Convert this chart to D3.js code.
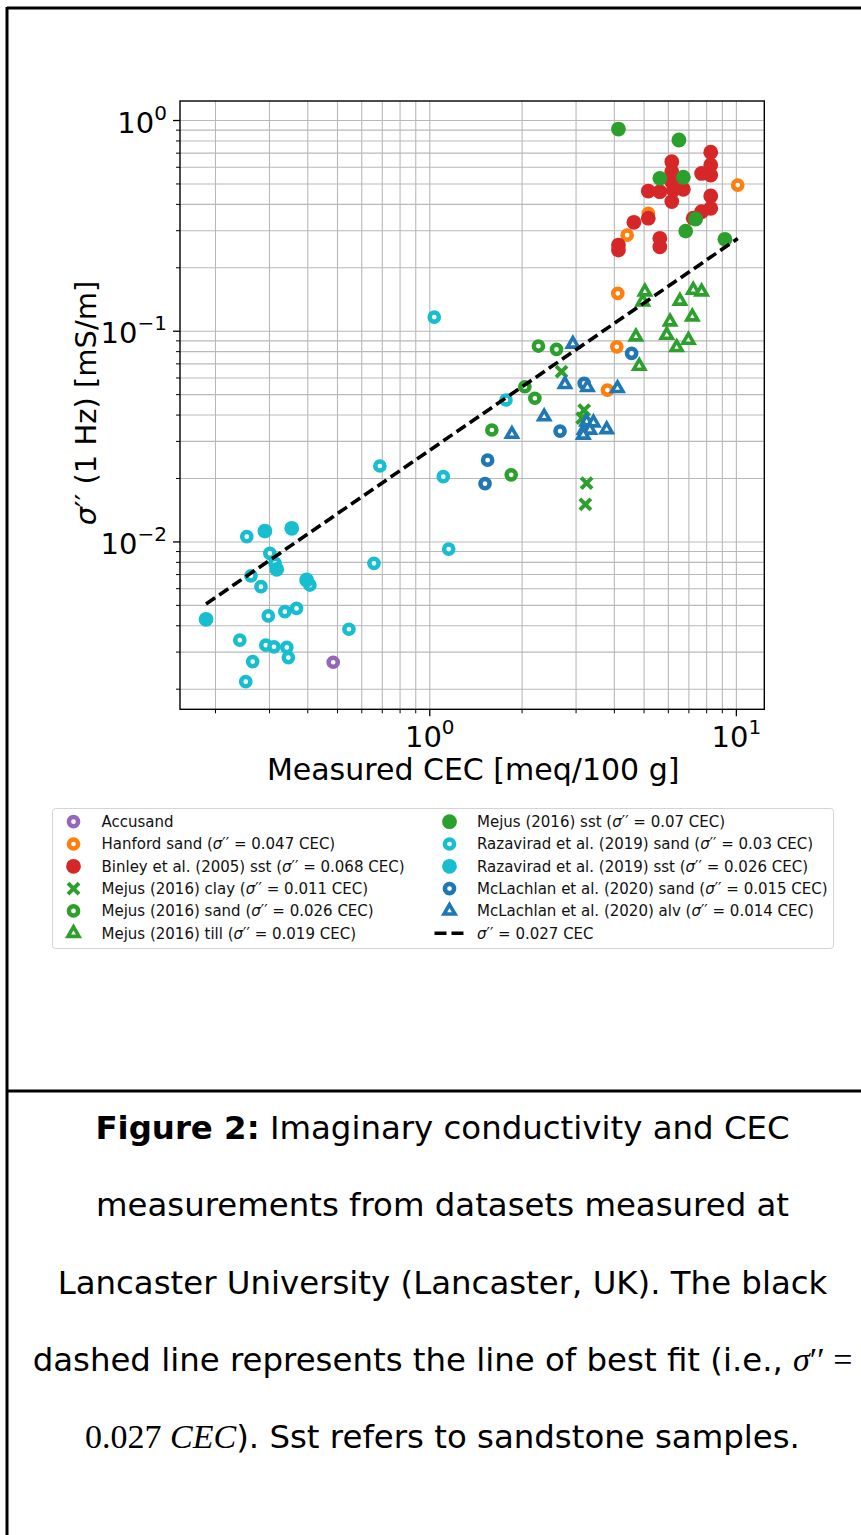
<!DOCTYPE html>
<html>
<head>
<meta charset="utf-8">
<script src="https://cdn.jsdelivr.net/npm/d3@7"></script>
<style>
  body { margin: 0; background: #fff; }
  svg { display: block; }
</style>
</head>
<body>
<svg id="fig" width="861" height="1535"></svg>
<script>
// each point: [CEC (meq/100 g), sigma'' at 1 Hz (mS/m)]
const accusand = [[0.486, 0.00267]]
const hanfordSand = [[10.14, 0.491], [5.18, 0.361], [4.42, 0.284], [4.12, 0.1505], [4.09, 0.0839], [3.81, 0.0523]]
const binleySst = [
  [8.28, 0.703], [8.28, 0.612], [7.73, 0.558], [8.28, 0.548], [6.18, 0.634], [6.18, 0.568],
  [6.18, 0.51], [5.18, 0.46], [5.65, 0.457], [6.25, 0.465], [6.74, 0.469], [6.18, 0.41],
  [8.28, 0.436], [8.28, 0.381], [7.73, 0.367], [7.26, 0.342], [5.18, 0.342], [4.65, 0.327],
  [4.14, 0.255], [4.14, 0.2415], [5.65, 0.2745], [5.65, 0.2504]
]
const mejusClay = [[2.7, 0.0639], [3.2, 0.042], [3.15, 0.0385], [3.26, 0.0189], [3.23, 0.015]]
const mejusSand = [[2.27, 0.0846], [2.6, 0.0816], [2.05, 0.0542], [2.21, 0.0478], [1.6, 0.0338], [1.85, 0.0207]]
const mejusTill = [
  [5.05, 0.1532], [4.97, 0.1373], [6.57, 0.1384], [7.26, 0.156], [7.73, 0.1532], [6.1, 0.1103],
  [7.21, 0.1165], [4.72, 0.0937], [5.95, 0.0954], [7.0, 0.0903], [6.41, 0.0834], [4.84, 0.068]
]
const mejusSst = [[4.14, 0.906], [6.52, 0.804], [5.65, 0.529], [6.74, 0.535], [7.39, 0.339], [6.86, 0.297], [9.21, 0.2715]]
const razaviradSand = [
  [0.254, 0.01053], [0.302, 0.00878], [0.314, 0.00787], [0.262, 0.00687], [0.2825, 0.0061],
  [0.408, 0.00621], [0.2985, 0.00443], [0.338, 0.00464], [0.369, 0.00481], [0.241, 0.0034],
  [0.293, 0.00322], [0.3115, 0.00316], [0.343, 0.00314], [0.347, 0.00281], [0.2655, 0.00269],
  [0.252, 0.00216], [0.547, 0.00383], [0.66, 0.00787], [0.69, 0.0228], [1.111, 0.0203],
  [1.157, 0.0092], [1.038, 0.1161], [1.779, 0.0469]
]
const razaviradSst = [[0.291, 0.0112], [0.356, 0.01154], [0.318, 0.00737], [0.398, 0.00656], [0.187, 0.00427]]
const mclachlanSand = [[4.57, 0.0781], [3.2, 0.0563], [2.67, 0.0334], [1.55, 0.0243], [1.52, 0.0188]]
const mclachlanAlv = [
  [2.94, 0.0865], [2.77, 0.0557], [3.28, 0.0539], [4.11, 0.0533], [2.37, 0.0391], [1.86, 0.0323],
  [3.79, 0.034], [3.26, 0.037], [3.43, 0.0366], [3.2, 0.0338], [3.34, 0.0338], [3.18, 0.032]
]

const fitSlope = 0.027
const xMajor = [1, 10]
const yMajor = [0.01, 0.1, 1]

const series = [
  { label: 'Accusand', data: accusand, color: '#9467bd', marker: 'open' },
  { label: "Hanford sand (σ'' = 0.047 CEC)", data: hanfordSand, color: '#ff7f0e', marker: 'open' },
  { label: "Binley et al. (2005) sst (σ'' = 0.068 CEC)", data: binleySst, color: '#d62728', marker: 'filled' },
  { label: "Mejus (2016) clay (σ'' = 0.011 CEC)", data: mejusClay, color: '#2ca02c', marker: 'x' },
  { label: "Mejus (2016) sand (σ'' = 0.026 CEC)", data: mejusSand, color: '#2ca02c', marker: 'open' },
  { label: "Mejus (2016) till (σ'' = 0.019 CEC)", data: mejusTill, color: '#2ca02c', marker: 'tri' },
  { label: "Mejus (2016) sst (σ'' = 0.07 CEC)", data: mejusSst, color: '#2ca02c', marker: 'filled' },
  { label: "Razavirad et al. (2019) sand (σ'' = 0.03 CEC)", data: razaviradSand, color: '#17becf', marker: 'open' },
  { label: "Razavirad et al. (2019) sst (σ'' = 0.026 CEC)", data: razaviradSst, color: '#17becf', marker: 'filled' },
  { label: "McLachlan et al. (2020) sand (σ'' = 0.015 CEC)", data: mclachlanSand, color: '#1f77b4', marker: 'open' },
  { label: "McLachlan et al. (2020) alv (σ'' = 0.014 CEC)", data: mclachlanAlv, color: '#1f77b4', marker: 'tri' },
]
const fitLabel = "σ'' = 0.027 CEC"

const svg = d3.select('#fig')

// page frame
svg.append('line').attr('x1', 7).attr('y1', 8).attr('x2', 861).attr('y2', 8).attr('stroke', '#000').attr('stroke-width', 3)
svg.append('line').attr('x1', 7).attr('y1', 7).attr('x2', 7).attr('y2', 1535).attr('stroke', '#000').attr('stroke-width', 3)
svg.append('line').attr('x1', 7).attr('y1', 1091).attr('x2', 861).attr('y2', 1091).attr('stroke', '#000').attr('stroke-width', 3)

const pLeft = 180, pRight = 764.3, pTop = 101, pBottom = 709.3
const x = d3.scaleLog().domain([0.1538, 12.38]).range([pLeft, pRight])
const y = d3.scaleLog().domain([0.001597, 1.231]).range([pBottom, pTop])

const minorOf = (scale) => {
  const [a, b] = scale.domain()
  const out = []
  for (let e = Math.floor(Math.log10(a)); e <= Math.ceil(Math.log10(b)); e++) {
    for (let k = 1; k <= 9; k++) {
      const v = k * Math.pow(10, e)
      if (v >= a && v <= b) out.push(+v.toPrecision(3))
    }
  }
  return out
}
const xMinor = minorOf(x)
const yMinor = minorOf(y)

// grid
svg.append('g')
  .attr('transform', `translate(0,${pBottom})`)
  .call(d3.axisBottom(x).tickValues(xMinor).tickSize(-(pBottom - pTop)).tickFormat(''))
  .call(g => g.select('.domain').remove())
  .selectAll('line').attr('stroke', '#b9b9b9').attr('stroke-width', 1.1)
svg.append('g')
  .attr('transform', `translate(${pLeft},0)`)
  .call(d3.axisLeft(y).tickValues(yMinor).tickSize(-(pRight - pLeft)).tickFormat(''))
  .call(g => g.select('.domain').remove())
  .selectAll('line').attr('stroke', '#b9b9b9').attr('stroke-width', 1.1)

// minor ticks
svg.append('g')
  .attr('transform', `translate(0,${pBottom})`)
  .call(d3.axisBottom(x).tickValues(xMinor.filter(v => !xMajor.includes(v))).tickSize(4).tickFormat(''))
  .call(g => g.select('.domain').remove())
  .selectAll('line').attr('stroke', '#000').attr('stroke-width', 1)
svg.append('g')
  .attr('transform', `translate(${pLeft},0)`)
  .call(d3.axisLeft(y).tickValues(yMinor.filter(v => !yMajor.includes(v))).tickSize(4).tickFormat(''))
  .call(g => g.select('.domain').remove())
  .selectAll('line').attr('stroke', '#000').attr('stroke-width', 1)

const supLabel = function (d) {
  const t = d3.select(this)
  const e = Math.round(Math.log10(d))
  t.text(null)
  t.append('tspan').text('10')
  t.append('tspan').attr('font-size', 20).attr('dy', -13).text(e < 0 ? '\u2212' + (-e) : String(e))
}

// major ticks + labels
const xAxis = svg.append('g')
  .attr('transform', `translate(0,${pBottom})`)
  .call(d3.axisBottom(x).tickValues(xMajor).tickSize(7).tickPadding(8))
xAxis.select('.domain').remove()
xAxis.selectAll('line').attr('stroke', '#000').attr('stroke-width', 1.3)
xAxis.selectAll('text')
  .attr('font-family', 'DejaVu Sans').attr('font-size', 29).attr('fill', '#000')
  .attr('dy', null).attr('y', 38).attr('text-anchor', 'middle')
  .each(supLabel)

const yAxis = svg.append('g')
  .attr('transform', `translate(${pLeft},0)`)
  .call(d3.axisLeft(y).tickValues(yMajor).tickSize(7).tickPadding(6))
yAxis.select('.domain').remove()
yAxis.selectAll('line').attr('stroke', '#000').attr('stroke-width', 1.3)
yAxis.selectAll('text')
  .attr('font-family', 'DejaVu Sans').attr('font-size', 29).attr('fill', '#000')
  .attr('dy', null).attr('y', 12).attr('text-anchor', 'end')
  .each(supLabel)

// plot frame
svg.append('rect').attr('x', pLeft).attr('y', pTop).attr('width', pRight - pLeft).attr('height', pBottom - pTop)
  .attr('fill', 'none').attr('stroke', '#000').attr('stroke-width', 1.4)

// axis titles
svg.append('text').attr('x', (pLeft + pRight) / 2 + 1).attr('y', 780)
  .attr('text-anchor', 'middle').attr('font-family', 'DejaVu Sans').attr('font-size', 30)
  .text('Measured CEC [meq/100 g]')
const yt = svg.append('text').attr('transform', 'translate(96,403) rotate(-90)')
  .attr('text-anchor', 'middle').attr('font-family', 'DejaVu Sans').attr('font-size', 29)
yt.append('tspan').attr('font-style', 'italic').text('σ')
yt.append('tspan').text('\u2032\u2032 (1 Hz) [mS/m]')

function drawMarker(g, type, color) {
  if (type === 'filled') {
    g.append('circle').attr('r', 7.4).attr('fill', color)
  } else if (type === 'open') {
    g.append('circle').attr('r', 4.6).attr('fill', '#fff').attr('stroke', color).attr('stroke-width', 4.5)
  } else if (type === 'tri') {
    g.append('path').attr('d', d3.symbol(d3.symbolTriangle, 52)())
      .attr('fill', '#fff').attr('stroke', color).attr('stroke-width', 3.6).attr('stroke-linejoin', 'miter')
  } else if (type === 'x') {
    g.append('path').attr('d', 'M-5.5,-5.5L5.5,5.5M-5.5,5.5L5.5,-5.5').attr('stroke', color).attr('stroke-width', 4)
  }
}

const plot = svg.append('g')
series.forEach(s => {
  plot.append('g').selectAll('g').data(s.data).join('g')
    .attr('transform', d => `translate(${x(d[0])},${y(d[1])})`)
    .each(function () { drawMarker(d3.select(this), s.marker, s.color) })
})

// best-fit line across the CEC range of all data
const cecRange = d3.extent(series.flatMap(s => s.data), d => d[0])
plot.append('path')
  .datum(cecRange.map(c => [c, fitSlope * c]))
  .attr('d', d3.line().x(d => x(d[0])).y(d => y(d[1])))
  .attr('fill', 'none').attr('stroke', '#000').attr('stroke-width', 3.6).attr('stroke-dasharray', '11,5')

// legend
const lg = svg.append('g')
lg.append('rect').attr('x', 52.5).attr('y', 808.5).attr('width', 781).attr('height', 140).attr('rx', 3)
  .attr('fill', '#fff').attr('stroke', '#d4d4d4').attr('stroke-width', 1)

function labelText(sel, label) {
  const parts = label.split("σ''")
  sel.append('tspan').text(parts[0])
  if (parts.length > 1) {
    sel.append('tspan').attr('font-style', 'italic').text('σ')
    sel.append('tspan').text('\u2032\u2032' + parts[1])
  }
}

const rowY = i => 821.7 + i * 22.3
series.concat([{ label: fitLabel, marker: 'line' }]).forEach((s, i) => {
  const col = Math.floor(i / 6), row = i % 6
  const mx = col === 0 ? 73.5 : 449.5
  const tx = col === 0 ? 101.5 : 477
  const g = lg.append('g').attr('transform', `translate(${mx},${rowY(row)})`)
  if (s.marker === 'line') {
    g.append('line').attr('x1', -15).attr('x2', 15).attr('stroke', '#000').attr('stroke-width', 3.6).attr('stroke-dasharray', '12,5')
  } else {
    drawMarker(g, s.marker, s.color)
  }
  const t = lg.append('text').attr('x', tx).attr('y', rowY(row) + 5.3)
    .attr('font-family', 'DejaVu Sans').attr('font-size', 15).attr('fill', '#111')
  labelText(t, s.label)
})

// caption
const cap = svg.append('g').attr('font-family', 'DejaVu Sans').attr('font-size', 32.4).attr('fill', '#000')
  .attr('text-anchor', 'middle')
const capLines = [
  [['Figure 2:', 'b'], [' Imaginary conductivity and CEC', '']],
  [['measurements from datasets measured at', '']],
  [['Lancaster University (Lancaster, UK). The black', '']],
  [['dashed line represents the line of best fit (i.e., ', ''], ['σ', 'mi'], ['\u2032\u2032 =', 'm']],
  [['0.027 ', 'm'], ['CEC', 'mi'], ['). Sst refers to sandstone samples.', '']],
]
capLines.forEach((parts, i) => {
  const t = cap.append('text').attr('x', 442.5).attr('y', 1139 + i * 77.3)
  parts.forEach(([txt, st]) => {
    const sp = t.append('tspan').text(txt)
    if (st === 'b') sp.attr('font-weight', 'bold')
    if (st === 'm' || st === 'mi') sp.attr('font-family', 'Liberation Serif').attr('font-size', 34)
    if (st === 'mi') sp.attr('font-style', 'italic')
  })
})
</script>
</body>
</html>
